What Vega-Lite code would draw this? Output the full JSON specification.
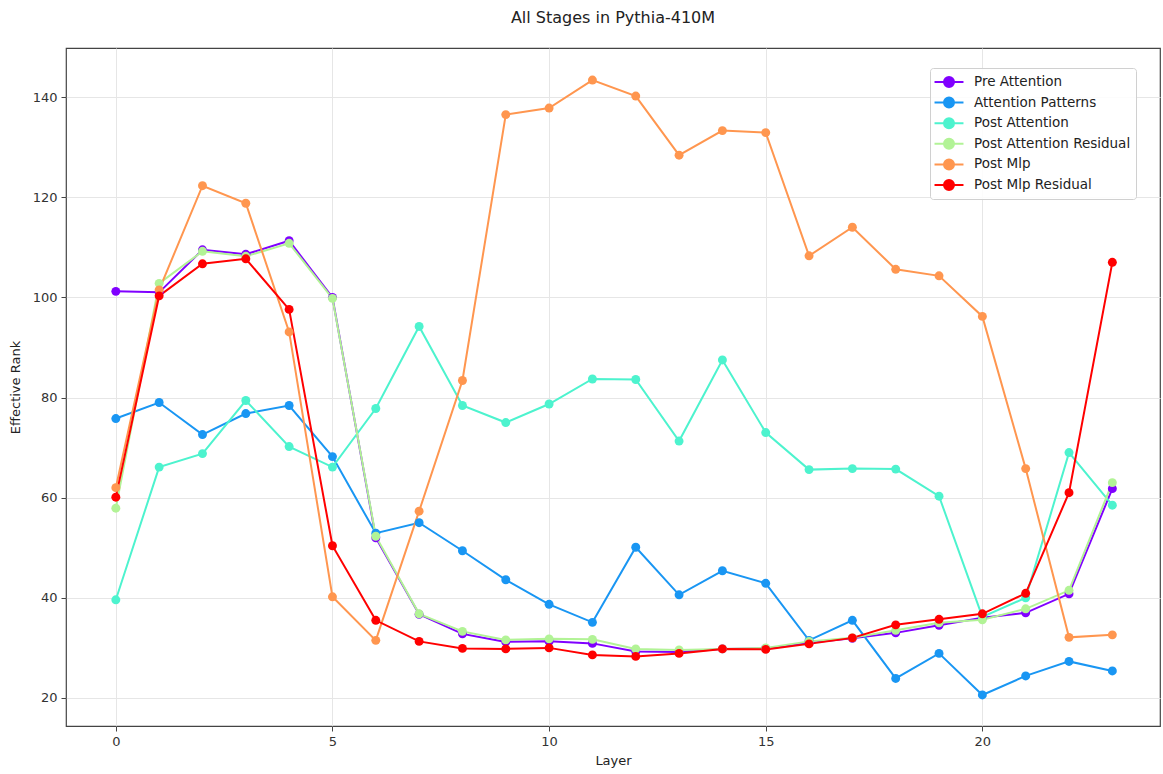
{
  "$schema": "https://vega.github.io/schema/vega-lite/v6.json",
  "width": 1094,
  "height": 678,
  "autosize": {"type": "none"},
  "padding": {"left": 66, "top": 48, "right": 3, "bottom": 48},
  "background": "white",
  "title": {"text": "All Stages in Pythia-410M", "font": "DejaVu Sans", "fontSize": 16, "fontWeight": "normal", "color": "#222", "anchor": "middle", "offset": 22},
  "config": {
    "view": {"stroke": "#444", "strokeWidth": 1.2},
    "font": "DejaVu Sans",
    "axis": {"labelFont": "DejaVu Sans", "titleFont": "DejaVu Sans", "labelFontSize": 13, "titleFontSize": 13, "titleFontWeight": "normal", "labelColor": "#333", "titleColor": "#222", "gridColor": "#e6e6e6", "gridWidth": 1, "domain": false, "tickColor": "#444", "tickSize": 5, "labelPadding": 4}
  },
  "data": {"values": [
    {"layer":0,"stage":"Pre Attention","value":101.2},{"layer":1,"stage":"Pre Attention","value":101.0},{"layer":2,"stage":"Pre Attention","value":109.5},{"layer":3,"stage":"Pre Attention","value":108.6},{"layer":4,"stage":"Pre Attention","value":111.3},{"layer":5,"stage":"Pre Attention","value":100.0},{"layer":6,"stage":"Pre Attention","value":52.0},{"layer":7,"stage":"Pre Attention","value":36.7},{"layer":8,"stage":"Pre Attention","value":32.8},{"layer":9,"stage":"Pre Attention","value":31.2},{"layer":10,"stage":"Pre Attention","value":31.3},{"layer":11,"stage":"Pre Attention","value":30.9},{"layer":12,"stage":"Pre Attention","value":29.3},{"layer":13,"stage":"Pre Attention","value":29.2},{"layer":14,"stage":"Pre Attention","value":29.8},{"layer":15,"stage":"Pre Attention","value":29.9},{"layer":16,"stage":"Pre Attention","value":31.0},{"layer":17,"stage":"Pre Attention","value":31.9},{"layer":18,"stage":"Pre Attention","value":33.0},{"layer":19,"stage":"Pre Attention","value":34.5},{"layer":20,"stage":"Pre Attention","value":36.0},{"layer":21,"stage":"Pre Attention","value":37.0},{"layer":22,"stage":"Pre Attention","value":40.8},{"layer":23,"stage":"Pre Attention","value":61.8},
    {"layer":0,"stage":"Attention Patterns","value":75.8},{"layer":1,"stage":"Attention Patterns","value":79.0},{"layer":2,"stage":"Attention Patterns","value":72.6},{"layer":3,"stage":"Attention Patterns","value":76.8},{"layer":4,"stage":"Attention Patterns","value":78.4},{"layer":5,"stage":"Attention Patterns","value":68.2},{"layer":6,"stage":"Attention Patterns","value":52.9},{"layer":7,"stage":"Attention Patterns","value":55.0},{"layer":8,"stage":"Attention Patterns","value":49.4},{"layer":9,"stage":"Attention Patterns","value":43.6},{"layer":10,"stage":"Attention Patterns","value":38.7},{"layer":11,"stage":"Attention Patterns","value":35.1},{"layer":12,"stage":"Attention Patterns","value":50.1},{"layer":13,"stage":"Attention Patterns","value":40.6},{"layer":14,"stage":"Attention Patterns","value":45.4},{"layer":15,"stage":"Attention Patterns","value":42.9},{"layer":16,"stage":"Attention Patterns","value":31.5},{"layer":17,"stage":"Attention Patterns","value":35.5},{"layer":18,"stage":"Attention Patterns","value":23.9},{"layer":19,"stage":"Attention Patterns","value":28.9},{"layer":20,"stage":"Attention Patterns","value":20.6},{"layer":21,"stage":"Attention Patterns","value":24.4},{"layer":22,"stage":"Attention Patterns","value":27.3},{"layer":23,"stage":"Attention Patterns","value":25.4},
    {"layer":0,"stage":"Post Attention","value":39.6},{"layer":1,"stage":"Post Attention","value":66.1},{"layer":2,"stage":"Post Attention","value":68.8},{"layer":3,"stage":"Post Attention","value":79.4},{"layer":4,"stage":"Post Attention","value":70.2},{"layer":5,"stage":"Post Attention","value":66.1},{"layer":6,"stage":"Post Attention","value":77.8},{"layer":7,"stage":"Post Attention","value":94.2},{"layer":8,"stage":"Post Attention","value":78.4},{"layer":9,"stage":"Post Attention","value":75.0},{"layer":10,"stage":"Post Attention","value":78.7},{"layer":11,"stage":"Post Attention","value":83.7},{"layer":12,"stage":"Post Attention","value":83.6},{"layer":13,"stage":"Post Attention","value":71.3},{"layer":14,"stage":"Post Attention","value":87.5},{"layer":15,"stage":"Post Attention","value":73.0},{"layer":16,"stage":"Post Attention","value":65.6},{"layer":17,"stage":"Post Attention","value":65.8},{"layer":18,"stage":"Post Attention","value":65.7},{"layer":19,"stage":"Post Attention","value":60.3},{"layer":20,"stage":"Post Attention","value":36.2},{"layer":21,"stage":"Post Attention","value":40.0},{"layer":22,"stage":"Post Attention","value":69.0},{"layer":23,"stage":"Post Attention","value":58.5},
    {"layer":0,"stage":"Post Attention Residual","value":57.9},{"layer":1,"stage":"Post Attention Residual","value":102.8},{"layer":2,"stage":"Post Attention Residual","value":109.2},{"layer":3,"stage":"Post Attention Residual","value":108.2},{"layer":4,"stage":"Post Attention Residual","value":110.8},{"layer":5,"stage":"Post Attention Residual","value":99.8},{"layer":6,"stage":"Post Attention Residual","value":52.3},{"layer":7,"stage":"Post Attention Residual","value":36.8},{"layer":8,"stage":"Post Attention Residual","value":33.3},{"layer":9,"stage":"Post Attention Residual","value":31.6},{"layer":10,"stage":"Post Attention Residual","value":31.8},{"layer":11,"stage":"Post Attention Residual","value":31.7},{"layer":12,"stage":"Post Attention Residual","value":29.8},{"layer":13,"stage":"Post Attention Residual","value":29.6},{"layer":14,"stage":"Post Attention Residual","value":29.8},{"layer":15,"stage":"Post Attention Residual","value":30.0},{"layer":16,"stage":"Post Attention Residual","value":31.3},{"layer":17,"stage":"Post Attention Residual","value":32.0},{"layer":18,"stage":"Post Attention Residual","value":33.5},{"layer":19,"stage":"Post Attention Residual","value":35.0},{"layer":20,"stage":"Post Attention Residual","value":35.6},{"layer":21,"stage":"Post Attention Residual","value":37.8},{"layer":22,"stage":"Post Attention Residual","value":41.5},{"layer":23,"stage":"Post Attention Residual","value":63.0},
    {"layer":0,"stage":"Post Mlp","value":62.0},{"layer":1,"stage":"Post Mlp","value":101.5},{"layer":2,"stage":"Post Mlp","value":122.3},{"layer":3,"stage":"Post Mlp","value":118.8},{"layer":4,"stage":"Post Mlp","value":93.1},{"layer":5,"stage":"Post Mlp","value":40.2},{"layer":6,"stage":"Post Mlp","value":31.5},{"layer":7,"stage":"Post Mlp","value":57.3},{"layer":8,"stage":"Post Mlp","value":83.4},{"layer":9,"stage":"Post Mlp","value":136.5},{"layer":10,"stage":"Post Mlp","value":137.8},{"layer":11,"stage":"Post Mlp","value":143.4},{"layer":12,"stage":"Post Mlp","value":140.2},{"layer":13,"stage":"Post Mlp","value":128.4},{"layer":14,"stage":"Post Mlp","value":133.3},{"layer":15,"stage":"Post Mlp","value":132.9},{"layer":16,"stage":"Post Mlp","value":108.3},{"layer":17,"stage":"Post Mlp","value":114.0},{"layer":18,"stage":"Post Mlp","value":105.6},{"layer":19,"stage":"Post Mlp","value":104.3},{"layer":20,"stage":"Post Mlp","value":96.2},{"layer":21,"stage":"Post Mlp","value":65.8},{"layer":22,"stage":"Post Mlp","value":32.1},{"layer":23,"stage":"Post Mlp","value":32.6},
    {"layer":0,"stage":"Post Mlp Residual","value":60.1},{"layer":1,"stage":"Post Mlp Residual","value":100.3},{"layer":2,"stage":"Post Mlp Residual","value":106.7},{"layer":3,"stage":"Post Mlp Residual","value":107.7},{"layer":4,"stage":"Post Mlp Residual","value":97.6},{"layer":5,"stage":"Post Mlp Residual","value":50.4},{"layer":6,"stage":"Post Mlp Residual","value":35.5},{"layer":7,"stage":"Post Mlp Residual","value":31.3},{"layer":8,"stage":"Post Mlp Residual","value":29.9},{"layer":9,"stage":"Post Mlp Residual","value":29.8},{"layer":10,"stage":"Post Mlp Residual","value":30.0},{"layer":11,"stage":"Post Mlp Residual","value":28.6},{"layer":12,"stage":"Post Mlp Residual","value":28.3},{"layer":13,"stage":"Post Mlp Residual","value":28.9},{"layer":14,"stage":"Post Mlp Residual","value":29.8},{"layer":15,"stage":"Post Mlp Residual","value":29.7},{"layer":16,"stage":"Post Mlp Residual","value":30.8},{"layer":17,"stage":"Post Mlp Residual","value":32.0},{"layer":18,"stage":"Post Mlp Residual","value":34.6},{"layer":19,"stage":"Post Mlp Residual","value":35.7},{"layer":20,"stage":"Post Mlp Residual","value":36.8},{"layer":21,"stage":"Post Mlp Residual","value":40.9},{"layer":22,"stage":"Post Mlp Residual","value":61.0},{"layer":23,"stage":"Post Mlp Residual","value":107.0}
  ]},
  "encoding": {
    "x": {"field": "layer", "type": "quantitative", "title": "Layer", "scale": {"domain": [-1.15, 24.1], "nice": false, "zero": false}, "axis": {"values": [0, 5, 10, 15, 20], "titlePadding": 6}},
    "y": {"field": "value", "type": "quantitative", "title": "Effective Rank", "scale": {"domain": [14.4, 149.8], "nice": false, "zero": false}, "axis": {"values": [20, 40, 60, 80, 100, 120, 140], "titlePadding": 10}},
    "color": {"field": "stage", "type": "nominal", "title": null,
      "scale": {"domain": ["Pre Attention", "Attention Patterns", "Post Attention", "Post Attention Residual", "Post Mlp", "Post Mlp Residual"],
                "range": ["#8000ff", "#1996f3", "#4df3ce", "#b2f396", "#ff964f", "#ff0000"]},
      "legend": {"orient": "none", "legendX": 864, "legendY": 20, "labelFont": "DejaVu Sans", "labelFontSize": 13.5, "labelColor": "#222",
        "symbolType": "M-1.81,0L1.81,0M-0.625,0A0.625,0.625 0 1,0 0.625,0A0.625,0.625 0 1,0 -0.625,0Z", "symbolSize": 256, "symbolStrokeWidth": 2,
        "symbolOffset": 5, "rowPadding": 2.6, "labelOffset": 16, "padding": 5, "strokeColor": "#d0d0d0", "fillColor": "rgba(255,255,255,0.85)", "cornerRadius": 3,
        "encode": {"symbols": {"update": {"fill": {"scale": "color", "field": "value"}, "stroke": {"scale": "color", "field": "value"}, "opacity": {"value": 1}}}}}}
  },
  "layer": [
    {"mark": {"type": "line", "strokeWidth": 2}},
    {"mark": {"type": "circle", "size": 80, "opacity": 1}}
  ]
}
